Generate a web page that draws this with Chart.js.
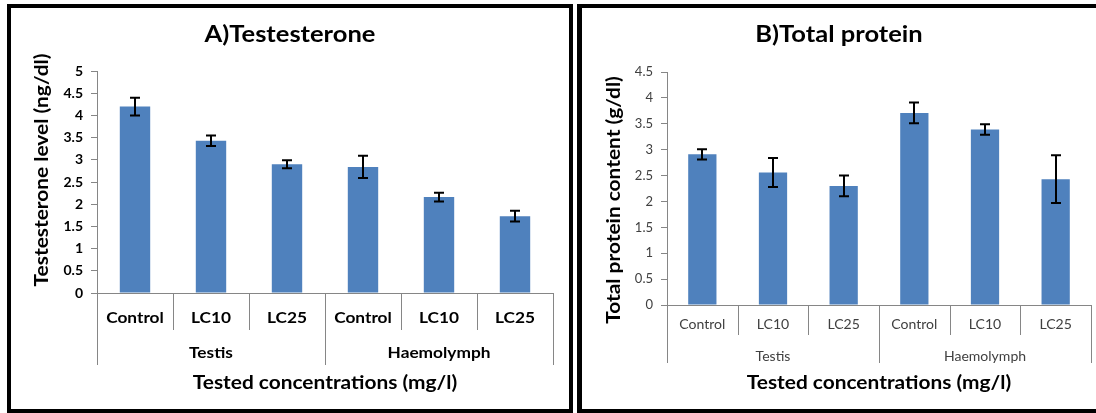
<!DOCTYPE html>
<html>
<head>
<meta charset="utf-8">
<script src="https://cdn.jsdelivr.net/npm/chart.js@4.4.1/dist/chart.umd.min.js"></script>
<style>
  html, body { margin: 0; padding: 0; background: #fff; width: 1096px; height: 413px; overflow: hidden; position: relative; }
  canvas { position: absolute; }
  .frame { position: absolute; box-sizing: border-box; pointer-events: none; }
</style>
</head>
<body>
<canvas id="chartA" width="558" height="403" style="left:11px; top:8px;"></canvas>
<canvas id="chartB" width="514" height="403" style="left:582px; top:8px;"></canvas>
<div class="frame" style="left:7px; top:4px; width:566px; height:409px; border:4px solid #000;"></div>
<div class="frame" style="left:577px; top:4px; width:530px; height:409px; border:4px solid #000; border-left-width:5px; border-right:none;"></div>
<script>
// ---- data ----
const categories = ['Control', 'LC10', 'LC25', 'Control', 'LC10', 'LC25'];
const groups = ['Testis', 'Haemolymph'];
const testosterone = [4.2, 3.43, 2.9, 2.84, 2.16, 1.73];
const testosteroneErr = [0.2, 0.12, 0.09, 0.25, 0.1, 0.12];
const protein = [2.91, 2.56, 2.3, 3.71, 3.39, 2.43];
const proteinErr = [0.1, 0.28, 0.2, 0.2, 0.1, 0.46];
const testosteroneAxis = { min: 0, max: 5, step: 0.5 };
const proteinAxis = { min: 0, max: 4.5, step: 0.5 };

const FONT = 'Lato, "Open Sans", "DejaVu Sans", sans-serif';
Chart.defaults.font.family = FONT;

function wideText(ctx, text, x, y, font, sx, rot) {
  ctx.save();
  ctx.translate(x, y);
  if (rot) ctx.rotate(rot);
  ctx.scale(sx, 1);
  ctx.font = font;
  ctx.textAlign = 'center';
  ctx.textBaseline = 'middle';
  ctx.fillText(text, 0, 0);
  ctx.restore();
}

const errorBarPlugin = {
  id: 'errorBars',
  afterDatasetsDraw(chart, args, o) {
    const ctx = chart.ctx;
    const ys = chart.scales.y;
    const meta = chart.getDatasetMeta(0);
    const vals = chart.data.datasets[0].data;
    const errs = o.errors;
    ctx.save();
    ctx.strokeStyle = '#000';
    ctx.lineWidth = 2;
    meta.data.forEach((bar, i) => {
      const x = Math.round(bar.x);
      const yt = ys.getPixelForValue(vals[i] + errs[i]);
      const yb = ys.getPixelForValue(vals[i] - errs[i]);
      const w = 5;
      ctx.beginPath();
      ctx.moveTo(x, yt); ctx.lineTo(x, yb);
      ctx.moveTo(x - w, yt); ctx.lineTo(x + w, yt);
      ctx.moveTo(x - w, yb); ctx.lineTo(x + w, yb);
      ctx.stroke();
    });
    ctx.restore();
  }
};

const groupAxisPlugin = {
  id: 'groupAxis',
  afterDraw(chart, args, o) {
    const ctx = chart.ctx;
    const xs = chart.scales.x;
    const area = chart.chartArea;
    const n = categories.length;
    const gsize = n / groups.length;
    const px = i => xs.getPixelForValue(i);
    const half = (px(1) - px(0)) / 2;
    ctx.save();
    ctx.strokeStyle = o.lineColor;
    ctx.lineWidth = 1;
    for (let i = 0; i <= n; i++) {
      const x = Math.round(i < n ? px(i) - half : px(n - 1) + half) + 0.5;
      const isGroup = i % gsize === 0;
      ctx.beginPath();
      ctx.moveTo(x, area.bottom);
      ctx.lineTo(x, isGroup ? o.groupBottom : o.sepBottom);
      ctx.stroke();
    }
    ctx.fillStyle = o.labelColor;
    categories.forEach((c, i) => wideText(ctx, c, px(i), o.labelY, o.labelFont, o.labelSx));
    groups.forEach((g, gi) => {
      const cx = (px(gi * gsize) + px(gi * gsize + gsize - 1)) / 2;
      wideText(ctx, g, cx, o.groupY, o.groupFont, o.labelSx);
    });
    ctx.fillStyle = '#000';
    wideText(ctx, o.xTitle, (area.left + area.right) / 2, o.titleY, o.titleFont, o.titleSx);
    wideText(ctx, o.yTitle, o.yTitleX, o.yTitleY, o.titleFont, o.titleSx, -Math.PI / 2);
    wideText(ctx, o.chartTitle, chart.width / 2, o.chartTitleY, o.chartTitleFont, o.titleSx);
    ctx.restore();
  }
};

function makeChart(id, cfg) {
  return new Chart(document.getElementById(id), {
    type: 'bar',
    data: {
      labels: categories,
      datasets: [{
        data: cfg.values,
        backgroundColor: '#4F81BD',
        borderWidth: 0,
        barPercentage: 0.4,
        categoryPercentage: 1.0
      }]
    },
    plugins: [errorBarPlugin, groupAxisPlugin],
    options: {
      responsive: false,
      animation: false,
      devicePixelRatio: 1,
      events: [],
      layout: { padding: { left: 0, right: cfg.padRight, top: cfg.padTop, bottom: 0 } },
      plugins: {
        legend: { display: false },
        tooltip: { enabled: false },
        title: { display: false },
        errorBars: { errors: cfg.errors },
        groupAxis: cfg.groupAxis
      },
      scales: {
        x: {
          ticks: { display: false },
          grid: { display: false },
          border: { display: true, color: '#868686', width: 1 },
          afterFit(s) { s.height = cfg.xHeight; }
        },
        y: {
          min: cfg.axis.min,
          max: cfg.axis.max,
          ticks: {
            stepSize: cfg.axis.step,
            color: cfg.tickColor,
            font: cfg.tickFont,
            padding: 8,
            callback: v => String(Number(v.toFixed(1)))
          },
          grid: { drawOnChartArea: false, drawTicks: true, tickLength: 6, color: '#868686' },
          border: { display: true, color: '#868686', width: 1 },
          afterFit(s) { s.width = cfg.yWidth; }
        }
      }
    }
  });
}

makeChart('chartA', {
  values: testosterone,
  errors: testosteroneErr,
  axis: testosteroneAxis,
  padTop: 63,
  padRight: 16,
  yWidth: 86,
  xHeight: 118,
  tickColor: '#000',
  tickFont: { size: 14, weight: 'bold', family: FONT },
  groupAxis: {
    chartTitle: 'A)Testesterone',
    chartTitleFont: 'bold 22px ' + FONT,
    chartTitleY: 27,
    lineColor: '#868686',
    labelColor: '#000',
    labelFont: 'bold 16px ' + FONT,
    groupFont: 'bold 16px ' + FONT,
    labelSx: 1.08,
    titleFont: 'bold 18px ' + FONT,
    titleSx: 1.16,
    labelY: 310, sepBottom: 322, groupY: 345, groupBottom: 357, titleY: 375,
    xTitle: 'Tested concentrations (mg/l)',
    yTitle: 'Testesterone level (ng/dl)',
    yTitleX: 31, yTitleY: 162
  }
});

makeChart('chartB', {
  values: protein,
  errors: proteinErr,
  axis: proteinAxis,
  padTop: 64,
  padRight: 5,
  yWidth: 85,
  xHeight: 106,
  tickColor: '#404040',
  tickFont: { size: 13, weight: 'normal', family: FONT },
  groupAxis: {
    chartTitle: 'B)Total protein',
    chartTitleFont: 'bold 22px ' + FONT,
    chartTitleY: 27,
    lineColor: '#868686',
    labelColor: '#404040',
    labelFont: '13px ' + FONT,
    groupFont: '13px ' + FONT,
    labelSx: 1.08,
    titleFont: 'bold 18px ' + FONT,
    titleSx: 1.16,
    labelY: 317, sepBottom: 327, groupY: 349, groupBottom: 355, titleY: 375,
    xTitle: 'Tested concentrations (mg/l)',
    yTitle: 'Total protein content (g/dl)',
    yTitleX: 32, yTitleY: 192
  }
});
</script>
</body>
</html>
